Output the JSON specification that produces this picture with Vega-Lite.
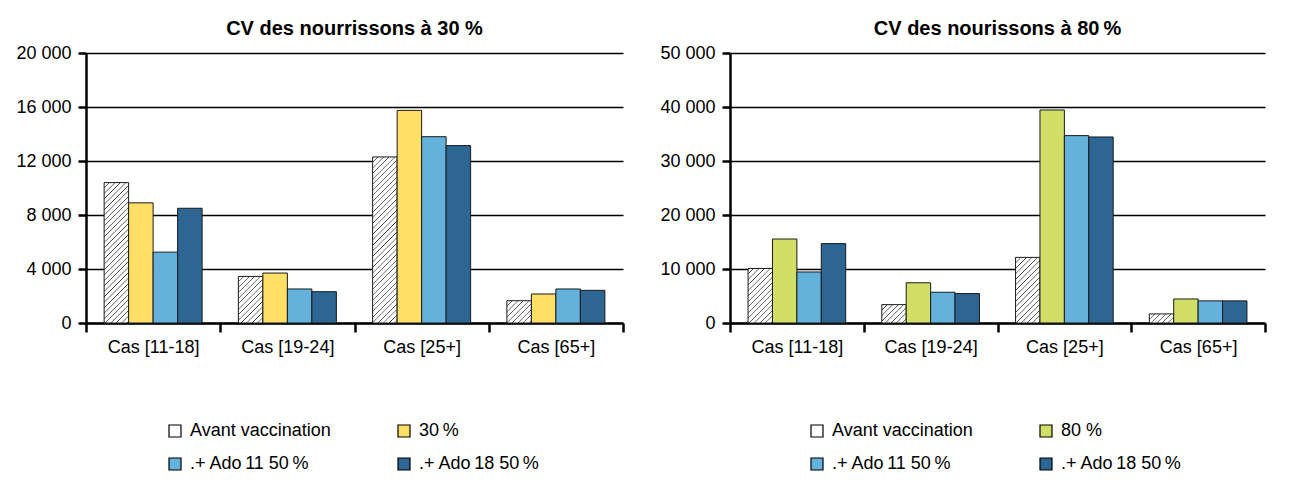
{
  "$schema": "https://vega.github.io/schema/vega-lite/v6.json",
  "autosize": {"type": "pad"},
  "padding": {"left": 15, "top": 19, "right": 0, "bottom": 0},
  "background": "white",
  "spacing": 34,
  "config": {
    "view": {"stroke": null},
    "font": "Liberation Sans",
    "title": {"font": "Liberation Sans", "fontSize": 20, "fontWeight": "bold", "color": "black", "anchor": "middle", "offset": 5},
    "axis": {"labelFont": "Liberation Sans", "labelFontSize": 18, "labelColor": "black", "domainColor": "black", "domainWidth": 2.5, "tickColor": "black", "tickWidth": 2.5, "gridColor": "black", "gridWidth": 1.5, "title": null},
    "legend": {"labelFont": "Liberation Sans", "labelFontSize": 18, "labelColor": "black"}
  },
  "datasets": {
    "g30": [
      {"cat": "Cas [11-18]", "s": "Avant vaccination", "v": 10400},
      {"cat": "Cas [11-18]", "s": "30\u2009%", "v": 8900},
      {"cat": "Cas [11-18]", "s": ".+ Ado\u200911 50\u2009%", "v": 5250},
      {"cat": "Cas [11-18]", "s": ".+ Ado\u200918 50\u2009%", "v": 8500},
      {"cat": "Cas [19-24]", "s": "Avant vaccination", "v": 3450},
      {"cat": "Cas [19-24]", "s": "30\u2009%", "v": 3700},
      {"cat": "Cas [19-24]", "s": ".+ Ado\u200911 50\u2009%", "v": 2520},
      {"cat": "Cas [19-24]", "s": ".+ Ado\u200918 50\u2009%", "v": 2320},
      {"cat": "Cas [25+]", "s": "Avant vaccination", "v": 12300},
      {"cat": "Cas [25+]", "s": "30\u2009%", "v": 15750},
      {"cat": "Cas [25+]", "s": ".+ Ado\u200911 50\u2009%", "v": 13800},
      {"cat": "Cas [25+]", "s": ".+ Ado\u200918 50\u2009%", "v": 13140},
      {"cat": "Cas [65+]", "s": "Avant vaccination", "v": 1650},
      {"cat": "Cas [65+]", "s": "30\u2009%", "v": 2150},
      {"cat": "Cas [65+]", "s": ".+ Ado\u200911 50\u2009%", "v": 2520},
      {"cat": "Cas [65+]", "s": ".+ Ado\u200918 50\u2009%", "v": 2420}
    ],
    "g80": [
      {"cat": "Cas [11-18]", "s": "Avant vaccination", "v": 10100},
      {"cat": "Cas [11-18]", "s": "80 %", "v": 15550},
      {"cat": "Cas [11-18]", "s": ".+ Ado\u200911 50\u2009%", "v": 9450},
      {"cat": "Cas [11-18]", "s": ".+ Ado\u200918 50\u2009%", "v": 14700},
      {"cat": "Cas [19-24]", "s": "Avant vaccination", "v": 3400},
      {"cat": "Cas [19-24]", "s": "80 %", "v": 7450},
      {"cat": "Cas [19-24]", "s": ".+ Ado\u200911 50\u2009%", "v": 5700},
      {"cat": "Cas [19-24]", "s": ".+ Ado\u200918 50\u2009%", "v": 5450},
      {"cat": "Cas [25+]", "s": "Avant vaccination", "v": 12150},
      {"cat": "Cas [25+]", "s": "80 %", "v": 39450},
      {"cat": "Cas [25+]", "s": ".+ Ado\u200911 50\u2009%", "v": 34700},
      {"cat": "Cas [25+]", "s": ".+ Ado\u200918 50\u2009%", "v": 34450},
      {"cat": "Cas [65+]", "s": "Avant vaccination", "v": 1680},
      {"cat": "Cas [65+]", "s": "80 %", "v": 4450},
      {"cat": "Cas [65+]", "s": ".+ Ado\u200911 50\u2009%", "v": 4100},
      {"cat": "Cas [65+]", "s": ".+ Ado\u200918 50\u2009%", "v": 4100}
    ]
  },
  "hconcat": [
    {
      "data": {"name": "g30"},
      "title": "CV des nourrissons à 30 %",
      "width": 537,
      "height": 270,
      "mark": {"type": "bar", "stroke": "#1a1a1a", "strokeWidth": 1},
      "encoding": {
        "x": {"field": "cat", "type": "nominal", "sort": null, "scale": {"paddingInner": 0, "paddingOuter": 0}, "axis": {"labelAngle": 0, "tickBand": "extent", "tickSize": 9, "labelPadding": 6, "grid": false}},
        "xOffset": {"field": "s", "type": "nominal", "sort": null, "scale": {"domain": ["Avant vaccination", "30\u2009%", ".+ Ado\u200911 50\u2009%", ".+ Ado\u200918 50\u2009%"], "paddingInner": 0, "paddingOuter": 0.74}},
        "y": {"field": "v", "type": "quantitative", "scale": {"domain": [0, 20000], "nice": false}, "axis": {"values": [0, 4000, 8000, 12000, 16000, 20000], "grid": true, "tickSize": 8, "labelPadding": 7, "labelExpr": "replace(format(datum.value, ','), ',', ' ')"}},
        "fill": {
          "field": "s", "type": "nominal", "sort": null,
          "scale": {"domain": ["Avant vaccination", "30\u2009%", ".+ Ado\u200911 50\u2009%", ".+ Ado\u200918 50\u2009%"], "range": ["#ffffff", "#FFDF66", "#64B1DC", "#2D6593"]},
          "legend": {"orient": "none", "legendX": 80, "legendY": 369, "columns": 2, "direction": "horizontal", "title": null, "symbolType": "square", "symbolSize": 144, "symbolStrokeColor": "black", "symbolStrokeWidth": 1.2, "labelOffset": 6, "columnPadding": 64, "rowPadding": 15, "labelLimit": 300},
          "condition": [
            {"test": "datum.s === 'Avant vaccination' && datum.cat === 'Cas [11-18]'", "value": {"gradient": "linear", "x1": 0, "y1": 0, "x2": 0.1989, "y2": 1.140, "stops": [
              {"offset": 0, "color": "#333"}, {"offset": 0.005, "color": "#fff"}, {"offset": 0.028, "color": "#fff"},
              {"offset": 0.033, "color": "#333"}, {"offset": 0.038, "color": "#fff"}, {"offset": 0.061, "color": "#fff"},
              {"offset": 0.066, "color": "#333"}, {"offset": 0.071, "color": "#fff"}, {"offset": 0.094, "color": "#fff"},
              {"offset": 0.099, "color": "#333"}, {"offset": 0.104, "color": "#fff"}, {"offset": 0.127, "color": "#fff"},
              {"offset": 0.132, "color": "#333"}, {"offset": 0.137, "color": "#fff"}, {"offset": 0.16, "color": "#fff"},
              {"offset": 0.165, "color": "#333"}, {"offset": 0.17, "color": "#fff"}, {"offset": 0.193, "color": "#fff"},
              {"offset": 0.198, "color": "#333"}, {"offset": 0.203, "color": "#fff"}, {"offset": 0.226, "color": "#fff"},
              {"offset": 0.231, "color": "#333"}, {"offset": 0.236, "color": "#fff"}, {"offset": 0.259, "color": "#fff"},
              {"offset": 0.264, "color": "#333"}, {"offset": 0.269, "color": "#fff"}, {"offset": 0.292, "color": "#fff"},
              {"offset": 0.297, "color": "#333"}, {"offset": 0.302, "color": "#fff"}, {"offset": 0.325, "color": "#fff"},
              {"offset": 0.33, "color": "#333"}, {"offset": 0.335, "color": "#fff"}, {"offset": 0.358, "color": "#fff"},
              {"offset": 0.363, "color": "#333"}, {"offset": 0.368, "color": "#fff"}, {"offset": 0.391, "color": "#fff"},
              {"offset": 0.396, "color": "#333"}, {"offset": 0.401, "color": "#fff"}, {"offset": 0.424, "color": "#fff"},
              {"offset": 0.429, "color": "#333"}, {"offset": 0.434, "color": "#fff"}, {"offset": 0.457, "color": "#fff"},
              {"offset": 0.462, "color": "#333"}, {"offset": 0.467, "color": "#fff"}, {"offset": 0.49, "color": "#fff"},
              {"offset": 0.495, "color": "#333"}, {"offset": 0.5, "color": "#fff"}, {"offset": 0.523, "color": "#fff"},
              {"offset": 0.528, "color": "#333"}, {"offset": 0.533, "color": "#fff"}, {"offset": 0.556, "color": "#fff"},
              {"offset": 0.561, "color": "#333"}, {"offset": 0.566, "color": "#fff"}, {"offset": 0.589, "color": "#fff"},
              {"offset": 0.594, "color": "#333"}, {"offset": 0.599, "color": "#fff"}, {"offset": 0.622, "color": "#fff"},
              {"offset": 0.627, "color": "#333"}, {"offset": 0.632, "color": "#fff"}, {"offset": 0.655, "color": "#fff"},
              {"offset": 0.66, "color": "#333"}, {"offset": 0.665, "color": "#fff"}, {"offset": 0.688, "color": "#fff"},
              {"offset": 0.693, "color": "#333"}, {"offset": 0.698, "color": "#fff"}, {"offset": 0.721, "color": "#fff"},
              {"offset": 0.726, "color": "#333"}, {"offset": 0.731, "color": "#fff"}, {"offset": 0.754, "color": "#fff"},
              {"offset": 0.759, "color": "#333"}, {"offset": 0.764, "color": "#fff"}, {"offset": 0.787, "color": "#fff"},
              {"offset": 0.792, "color": "#333"}, {"offset": 0.797, "color": "#fff"}, {"offset": 0.82, "color": "#fff"},
              {"offset": 0.825, "color": "#333"}, {"offset": 0.83, "color": "#fff"}, {"offset": 0.853, "color": "#fff"},
              {"offset": 0.858, "color": "#333"}, {"offset": 0.863, "color": "#fff"}, {"offset": 0.886, "color": "#fff"},
              {"offset": 0.891, "color": "#333"}, {"offset": 0.896, "color": "#fff"}, {"offset": 0.919, "color": "#fff"},
              {"offset": 0.924, "color": "#333"}, {"offset": 0.929, "color": "#fff"}, {"offset": 0.952, "color": "#fff"},
              {"offset": 0.957, "color": "#333"}, {"offset": 0.962, "color": "#fff"}, {"offset": 0.985, "color": "#fff"},
              {"offset": 0.99, "color": "#333"}, {"offset": 0.995, "color": "#fff"}, {"offset": 1, "color": "#fff"}
            ]}},
            {"test": "datum.s === 'Avant vaccination' && datum.cat === 'Cas [19-24]'", "value": {"gradient": "linear", "x1": 0, "y1": 0, "x2": 0.6287, "y2": 1.195, "stops": [
              {"offset": 0, "color": "#333"}, {"offset": 0.011, "color": "#fff"}, {"offset": 0.066, "color": "#fff"},
              {"offset": 0.077, "color": "#333"}, {"offset": 0.088, "color": "#fff"}, {"offset": 0.143, "color": "#fff"},
              {"offset": 0.154, "color": "#333"}, {"offset": 0.165, "color": "#fff"}, {"offset": 0.22, "color": "#fff"},
              {"offset": 0.231, "color": "#333"}, {"offset": 0.242, "color": "#fff"}, {"offset": 0.297, "color": "#fff"},
              {"offset": 0.308, "color": "#333"}, {"offset": 0.319, "color": "#fff"}, {"offset": 0.374, "color": "#fff"},
              {"offset": 0.385, "color": "#333"}, {"offset": 0.396, "color": "#fff"}, {"offset": 0.451, "color": "#fff"},
              {"offset": 0.462, "color": "#333"}, {"offset": 0.473, "color": "#fff"}, {"offset": 0.528, "color": "#fff"},
              {"offset": 0.539, "color": "#333"}, {"offset": 0.55, "color": "#fff"}, {"offset": 0.605, "color": "#fff"},
              {"offset": 0.616, "color": "#333"}, {"offset": 0.627, "color": "#fff"}, {"offset": 0.682, "color": "#fff"},
              {"offset": 0.693, "color": "#333"}, {"offset": 0.704, "color": "#fff"}, {"offset": 0.759, "color": "#fff"},
              {"offset": 0.77, "color": "#333"}, {"offset": 0.781, "color": "#fff"}, {"offset": 0.836, "color": "#fff"},
              {"offset": 0.847, "color": "#333"}, {"offset": 0.858, "color": "#fff"}, {"offset": 0.913, "color": "#fff"},
              {"offset": 0.924, "color": "#333"}, {"offset": 0.935, "color": "#fff"}, {"offset": 0.99, "color": "#fff"},
              {"offset": 1, "color": "#333"}
            ]}},
            {"test": "datum.s === 'Avant vaccination' && datum.cat === 'Cas [25+]'", "value": {"gradient": "linear", "x1": 0, "y1": 0, "x2": 0.1657, "y2": 1.123, "stops": [
              {"offset": 0, "color": "#333"}, {"offset": 0.004, "color": "#fff"}, {"offset": 0.025, "color": "#fff"},
              {"offset": 0.029, "color": "#333"}, {"offset": 0.033, "color": "#fff"}, {"offset": 0.054, "color": "#fff"},
              {"offset": 0.058, "color": "#333"}, {"offset": 0.062, "color": "#fff"}, {"offset": 0.083, "color": "#fff"},
              {"offset": 0.087, "color": "#333"}, {"offset": 0.091, "color": "#fff"}, {"offset": 0.112, "color": "#fff"},
              {"offset": 0.116, "color": "#333"}, {"offset": 0.12, "color": "#fff"}, {"offset": 0.141, "color": "#fff"},
              {"offset": 0.145, "color": "#333"}, {"offset": 0.149, "color": "#fff"}, {"offset": 0.17, "color": "#fff"},
              {"offset": 0.174, "color": "#333"}, {"offset": 0.178, "color": "#fff"}, {"offset": 0.199, "color": "#fff"},
              {"offset": 0.203, "color": "#333"}, {"offset": 0.207, "color": "#fff"}, {"offset": 0.228, "color": "#fff"},
              {"offset": 0.232, "color": "#333"}, {"offset": 0.236, "color": "#fff"}, {"offset": 0.257, "color": "#fff"},
              {"offset": 0.261, "color": "#333"}, {"offset": 0.265, "color": "#fff"}, {"offset": 0.286, "color": "#fff"},
              {"offset": 0.29, "color": "#333"}, {"offset": 0.294, "color": "#fff"}, {"offset": 0.315, "color": "#fff"},
              {"offset": 0.319, "color": "#333"}, {"offset": 0.323, "color": "#fff"}, {"offset": 0.344, "color": "#fff"},
              {"offset": 0.348, "color": "#333"}, {"offset": 0.352, "color": "#fff"}, {"offset": 0.373, "color": "#fff"},
              {"offset": 0.377, "color": "#333"}, {"offset": 0.381, "color": "#fff"}, {"offset": 0.402, "color": "#fff"},
              {"offset": 0.406, "color": "#333"}, {"offset": 0.41, "color": "#fff"}, {"offset": 0.431, "color": "#fff"},
              {"offset": 0.435, "color": "#333"}, {"offset": 0.439, "color": "#fff"}, {"offset": 0.46, "color": "#fff"},
              {"offset": 0.464, "color": "#333"}, {"offset": 0.468, "color": "#fff"}, {"offset": 0.489, "color": "#fff"},
              {"offset": 0.493, "color": "#333"}, {"offset": 0.497, "color": "#fff"}, {"offset": 0.518, "color": "#fff"},
              {"offset": 0.522, "color": "#333"}, {"offset": 0.526, "color": "#fff"}, {"offset": 0.547, "color": "#fff"},
              {"offset": 0.551, "color": "#333"}, {"offset": 0.555, "color": "#fff"}, {"offset": 0.576, "color": "#fff"},
              {"offset": 0.58, "color": "#333"}, {"offset": 0.584, "color": "#fff"}, {"offset": 0.605, "color": "#fff"},
              {"offset": 0.609, "color": "#333"}, {"offset": 0.613, "color": "#fff"}, {"offset": 0.634, "color": "#fff"},
              {"offset": 0.638, "color": "#333"}, {"offset": 0.642, "color": "#fff"}, {"offset": 0.663, "color": "#fff"},
              {"offset": 0.667, "color": "#333"}, {"offset": 0.671, "color": "#fff"}, {"offset": 0.692, "color": "#fff"},
              {"offset": 0.696, "color": "#333"}, {"offset": 0.7, "color": "#fff"}, {"offset": 0.721, "color": "#fff"},
              {"offset": 0.725, "color": "#333"}, {"offset": 0.729, "color": "#fff"}, {"offset": 0.75, "color": "#fff"},
              {"offset": 0.754, "color": "#333"}, {"offset": 0.758, "color": "#fff"}, {"offset": 0.779, "color": "#fff"},
              {"offset": 0.783, "color": "#333"}, {"offset": 0.787, "color": "#fff"}, {"offset": 0.808, "color": "#fff"},
              {"offset": 0.812, "color": "#333"}, {"offset": 0.816, "color": "#fff"}, {"offset": 0.837, "color": "#fff"},
              {"offset": 0.841, "color": "#333"}, {"offset": 0.845, "color": "#fff"}, {"offset": 0.866, "color": "#fff"},
              {"offset": 0.87, "color": "#333"}, {"offset": 0.874, "color": "#fff"}, {"offset": 0.895, "color": "#fff"},
              {"offset": 0.899, "color": "#333"}, {"offset": 0.903, "color": "#fff"}, {"offset": 0.924, "color": "#fff"},
              {"offset": 0.928, "color": "#333"}, {"offset": 0.932, "color": "#fff"}, {"offset": 0.953, "color": "#fff"},
              {"offset": 0.957, "color": "#333"}, {"offset": 0.961, "color": "#fff"}, {"offset": 0.982, "color": "#fff"},
              {"offset": 0.986, "color": "#333"}, {"offset": 0.99, "color": "#fff"}, {"offset": 1, "color": "#fff"}
            ]}},
            {"test": "datum.s === 'Avant vaccination' && datum.cat === 'Cas [65+]'", "value": {"gradient": "linear", "x1": 0, "y1": 0, "x2": 1.045, "y2": 0.9503, "stops": [
              {"offset": 0, "color": "#333"}, {"offset": 0.017, "color": "#fff"}, {"offset": 0.101, "color": "#fff"},
              {"offset": 0.118, "color": "#333"}, {"offset": 0.135, "color": "#fff"}, {"offset": 0.219, "color": "#fff"},
              {"offset": 0.236, "color": "#333"}, {"offset": 0.253, "color": "#fff"}, {"offset": 0.337, "color": "#fff"},
              {"offset": 0.354, "color": "#333"}, {"offset": 0.371, "color": "#fff"}, {"offset": 0.455, "color": "#fff"},
              {"offset": 0.472, "color": "#333"}, {"offset": 0.489, "color": "#fff"}, {"offset": 0.573, "color": "#fff"},
              {"offset": 0.59, "color": "#333"}, {"offset": 0.607, "color": "#fff"}, {"offset": 0.691, "color": "#fff"},
              {"offset": 0.708, "color": "#333"}, {"offset": 0.725, "color": "#fff"}, {"offset": 0.809, "color": "#fff"},
              {"offset": 0.826, "color": "#333"}, {"offset": 0.843, "color": "#fff"}, {"offset": 0.927, "color": "#fff"},
              {"offset": 0.944, "color": "#333"}, {"offset": 0.961, "color": "#fff"}, {"offset": 1, "color": "#fff"}
            ]}}
          ]
        }
      }
    },
    {
      "data": {"name": "g80"},
      "title": "CV des nourissons à 80\u2009%",
      "width": 535,
      "height": 270,
      "mark": {"type": "bar", "stroke": "#1a1a1a", "strokeWidth": 1},
      "encoding": {
        "x": {"field": "cat", "type": "nominal", "sort": null, "scale": {"paddingInner": 0, "paddingOuter": 0}, "axis": {"labelAngle": 0, "tickBand": "extent", "tickSize": 9, "labelPadding": 6, "grid": false}},
        "xOffset": {"field": "s", "type": "nominal", "sort": null, "scale": {"domain": ["Avant vaccination", "80 %", ".+ Ado\u200911 50\u2009%", ".+ Ado\u200918 50\u2009%"], "paddingInner": 0, "paddingOuter": 0.74}},
        "y": {"field": "v", "type": "quantitative", "scale": {"domain": [0, 50000], "nice": false}, "axis": {"values": [0, 10000, 20000, 30000, 40000, 50000], "grid": true, "tickSize": 8, "labelPadding": 7, "labelExpr": "replace(format(datum.value, ','), ',', ' ')"}},
        "fill": {
          "field": "s", "type": "nominal", "sort": null,
          "scale": {"domain": ["Avant vaccination", "80 %", ".+ Ado\u200911 50\u2009%", ".+ Ado\u200918 50\u2009%"], "range": ["#ffffff", "#D2DF66", "#64B1DC", "#2D6593"]},
          "legend": {"orient": "none", "legendX": 78, "legendY": 369, "columns": 2, "direction": "horizontal", "title": null, "symbolType": "square", "symbolSize": 144, "symbolStrokeColor": "black", "symbolStrokeWidth": 1.2, "labelOffset": 6, "columnPadding": 64, "rowPadding": 15, "labelLimit": 300},
          "condition": [
            {"test": "datum.s === 'Avant vaccination' && datum.cat === 'Cas [11-18]'", "value": {"gradient": "linear", "x1": 0, "y1": 0, "x2": 0.5417, "y2": 1.2059, "stops": [
              {"offset": 0, "color": "#333"}, {"offset": 0.01, "color": "#fff"}, {"offset": 0.06, "color": "#fff"},
              {"offset": 0.07, "color": "#333"}, {"offset": 0.08, "color": "#fff"}, {"offset": 0.13, "color": "#fff"},
              {"offset": 0.14, "color": "#333"}, {"offset": 0.15, "color": "#fff"}, {"offset": 0.2, "color": "#fff"},
              {"offset": 0.21, "color": "#333"}, {"offset": 0.22, "color": "#fff"}, {"offset": 0.27, "color": "#fff"},
              {"offset": 0.28, "color": "#333"}, {"offset": 0.29, "color": "#fff"}, {"offset": 0.34, "color": "#fff"},
              {"offset": 0.35, "color": "#333"}, {"offset": 0.36, "color": "#fff"}, {"offset": 0.41, "color": "#fff"},
              {"offset": 0.42, "color": "#333"}, {"offset": 0.43, "color": "#fff"}, {"offset": 0.48, "color": "#fff"},
              {"offset": 0.49, "color": "#333"}, {"offset": 0.5, "color": "#fff"}, {"offset": 0.55, "color": "#fff"},
              {"offset": 0.56, "color": "#333"}, {"offset": 0.57, "color": "#fff"}, {"offset": 0.62, "color": "#fff"},
              {"offset": 0.63, "color": "#333"}, {"offset": 0.64, "color": "#fff"}, {"offset": 0.69, "color": "#fff"},
              {"offset": 0.7, "color": "#333"}, {"offset": 0.71, "color": "#fff"}, {"offset": 0.76, "color": "#fff"},
              {"offset": 0.77, "color": "#333"}, {"offset": 0.78, "color": "#fff"}, {"offset": 0.83, "color": "#fff"},
              {"offset": 0.84, "color": "#333"}, {"offset": 0.85, "color": "#fff"}, {"offset": 0.9, "color": "#fff"},
              {"offset": 0.91, "color": "#333"}, {"offset": 0.92, "color": "#fff"}, {"offset": 0.97, "color": "#fff"},
              {"offset": 0.98, "color": "#333"}, {"offset": 0.99, "color": "#fff"}, {"offset": 1, "color": "#fff"}
            ]}},
            {"test": "datum.s === 'Avant vaccination' && datum.cat === 'Cas [19-24]'", "value": {"gradient": "linear", "x1": 0, "y1": 0, "x2": 1.1203, "y2": 0.8395, "stops": [
              {"offset": 0, "color": "#333"}, {"offset": 0.019, "color": "#fff"}, {"offset": 0.109, "color": "#fff"},
              {"offset": 0.128, "color": "#333"}, {"offset": 0.147, "color": "#fff"}, {"offset": 0.237, "color": "#fff"},
              {"offset": 0.256, "color": "#333"}, {"offset": 0.275, "color": "#fff"}, {"offset": 0.365, "color": "#fff"},
              {"offset": 0.384, "color": "#333"}, {"offset": 0.403, "color": "#fff"}, {"offset": 0.493, "color": "#fff"},
              {"offset": 0.512, "color": "#333"}, {"offset": 0.531, "color": "#fff"}, {"offset": 0.621, "color": "#fff"},
              {"offset": 0.64, "color": "#333"}, {"offset": 0.659, "color": "#fff"}, {"offset": 0.749, "color": "#fff"},
              {"offset": 0.768, "color": "#333"}, {"offset": 0.787, "color": "#fff"}, {"offset": 0.877, "color": "#fff"},
              {"offset": 0.896, "color": "#333"}, {"offset": 0.915, "color": "#fff"}, {"offset": 1, "color": "#fff"}
            ]}},
            {"test": "datum.s === 'Avant vaccination' && datum.cat === 'Cas [25+]'", "value": {"gradient": "linear", "x1": 0, "y1": 0, "x2": 0.4501, "y2": 1.2054, "stops": [
              {"offset": 0, "color": "#333"}, {"offset": 0.009, "color": "#fff"}, {"offset": 0.052, "color": "#fff"},
              {"offset": 0.061, "color": "#333"}, {"offset": 0.07, "color": "#fff"}, {"offset": 0.113, "color": "#fff"},
              {"offset": 0.122, "color": "#333"}, {"offset": 0.131, "color": "#fff"}, {"offset": 0.174, "color": "#fff"},
              {"offset": 0.183, "color": "#333"}, {"offset": 0.192, "color": "#fff"}, {"offset": 0.235, "color": "#fff"},
              {"offset": 0.244, "color": "#333"}, {"offset": 0.253, "color": "#fff"}, {"offset": 0.296, "color": "#fff"},
              {"offset": 0.305, "color": "#333"}, {"offset": 0.314, "color": "#fff"}, {"offset": 0.357, "color": "#fff"},
              {"offset": 0.366, "color": "#333"}, {"offset": 0.375, "color": "#fff"}, {"offset": 0.418, "color": "#fff"},
              {"offset": 0.427, "color": "#333"}, {"offset": 0.436, "color": "#fff"}, {"offset": 0.479, "color": "#fff"},
              {"offset": 0.488, "color": "#333"}, {"offset": 0.497, "color": "#fff"}, {"offset": 0.54, "color": "#fff"},
              {"offset": 0.549, "color": "#333"}, {"offset": 0.558, "color": "#fff"}, {"offset": 0.601, "color": "#fff"},
              {"offset": 0.61, "color": "#333"}, {"offset": 0.619, "color": "#fff"}, {"offset": 0.662, "color": "#fff"},
              {"offset": 0.671, "color": "#333"}, {"offset": 0.68, "color": "#fff"}, {"offset": 0.723, "color": "#fff"},
              {"offset": 0.732, "color": "#333"}, {"offset": 0.741, "color": "#fff"}, {"offset": 0.784, "color": "#fff"},
              {"offset": 0.793, "color": "#333"}, {"offset": 0.802, "color": "#fff"}, {"offset": 0.845, "color": "#fff"},
              {"offset": 0.854, "color": "#333"}, {"offset": 0.863, "color": "#fff"}, {"offset": 0.906, "color": "#fff"},
              {"offset": 0.915, "color": "#333"}, {"offset": 0.924, "color": "#fff"}, {"offset": 0.967, "color": "#fff"},
              {"offset": 0.976, "color": "#333"}, {"offset": 0.985, "color": "#fff"}, {"offset": 1, "color": "#fff"}
            ]}},
            {"test": "datum.s === 'Avant vaccination' && datum.cat === 'Cas [65+]'", "value": {"gradient": "linear", "x1": 0, "y1": 0, "x2": 1.205, "y2": 0.4461, "stops": [
              {"offset": 0, "color": "#333"}, {"offset": 0.024, "color": "#fff"}, {"offset": 0.14, "color": "#fff"},
              {"offset": 0.164, "color": "#333"}, {"offset": 0.188, "color": "#fff"}, {"offset": 0.304, "color": "#fff"},
              {"offset": 0.328, "color": "#333"}, {"offset": 0.352, "color": "#fff"}, {"offset": 0.468, "color": "#fff"},
              {"offset": 0.492, "color": "#333"}, {"offset": 0.516, "color": "#fff"}, {"offset": 0.632, "color": "#fff"},
              {"offset": 0.656, "color": "#333"}, {"offset": 0.68, "color": "#fff"}, {"offset": 0.796, "color": "#fff"},
              {"offset": 0.82, "color": "#333"}, {"offset": 0.844, "color": "#fff"}, {"offset": 0.96, "color": "#fff"},
              {"offset": 0.984, "color": "#333"}, {"offset": 1, "color": "#fff"}
            ]}}
          ]
        }
      }
    }
  ],
  "resolve": {"scale": {"x": "independent", "y": "independent", "xOffset": "independent", "fill": "independent"}, "legend": {"fill": "independent"}}
}
